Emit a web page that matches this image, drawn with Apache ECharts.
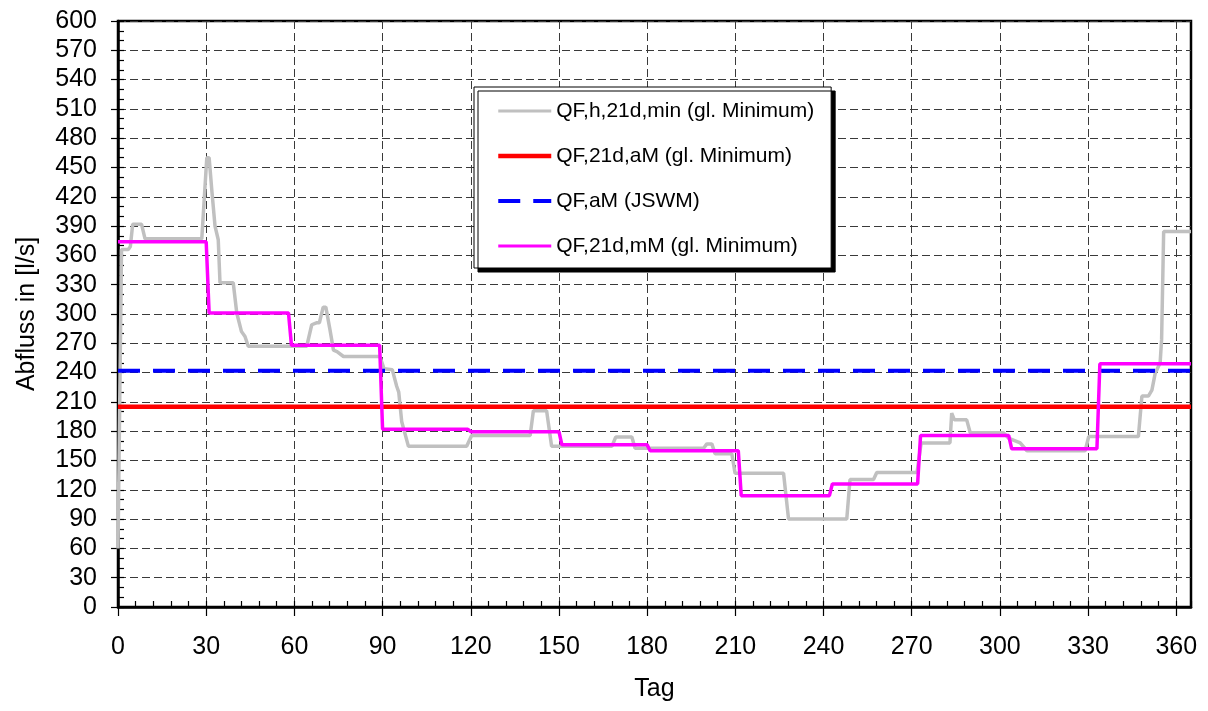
<!DOCTYPE html>
<html>
<head>
<meta charset="utf-8">
<script src="https://cdn.jsdelivr.net/npm/echarts@6/dist/echarts.min.js"></script>
<style>
  html, body { margin: 0; padding: 0; background: #fff; }
  #chart { width: 1208px; height: 711px; }
</style>
</head>
<body>
<div id="chart"></div>
<script>
// Axis tick labels
const xTickValues = [0, 30, 60, 90, 120, 150, 180, 210, 240, 270, 300, 330, 360];
const yTickValues = [0, 30, 60, 90, 120, 150, 180, 210, 240, 270, 300, 330, 360, 390, 420, 450, 480, 510, 540, 570, 600];

// Series names
const seriesNames = [
  'QF,h,21d,min (gl. Minimum)',
  'QF,21d,aM (gl. Minimum)',
  'QF,aM (JSWM)',
  'QF,21d,mM (gl. Minimum)'
];

// QF,h,21d,min – gliding 21-day minimum, [Tag, l/s]
const glidingMin = [
  [0, 60], [1.2, 366], [3.5, 366], [4.2, 369], [5, 392], [8, 392], [9.2, 377],
  [28.5, 377], [30.2, 460], [31, 460], [31.9, 427], [33, 390], [34.1, 376],
  [34.7, 332], [39.2, 332], [40.4, 301], [42, 282], [43.2, 277], [44.3, 267],
  [64.2, 267], [65.9, 289], [67.5, 291], [68.5, 291], [69.8, 307], [70.7, 307],
  [72.1, 284], [73.3, 263], [74.5, 261.5], [76.7, 256.5], [89.1, 256.5],
  [90.5, 244], [93.3, 243], [94.8, 226], [95.5, 220], [96.5, 190], [98.8, 164.5],
  [118.6, 164.5], [120.3, 175.5], [140.2, 175.5], [141.3, 201], [145.8, 201],
  [147.5, 164.5], [168, 164.5], [169.3, 174], [174.8, 174], [175.9, 162.5],
  [199.2, 162.5], [200.3, 167], [202, 167], [203.1, 157], [208.8, 157],
  [209.9, 137], [226.4, 137], [228.1, 90], [247.9, 90], [249, 130.5], [257, 130.5],
  [258.1, 137.6], [271.8, 137.6], [273.2, 168], [283, 168], [283.6, 198.5],
  [284.5, 191.6], [288.7, 191.6], [289.9, 178.5], [301.2, 178.5], [302.9, 173],
  [306.9, 168], [309.2, 160], [329, 160], [330.2, 174.5], [347.1, 174.5],
  [348.3, 216], [350.5, 216], [351.7, 222], [352.8, 239], [354.5, 250],
  [355, 274], [355.7, 384.5], [365, 384.5]
];

// QF,21d,aM – annual value of the 21-day mean minimum
const annualMin21d = 205;
// QF,aM (JSWM) – annual mean
const annualMean = 242;

// QF,21d,mM – monthly values, one per month starting at the given day
const monthStartDay = [0, 31, 59, 90, 120, 151, 181, 212, 243, 273, 304, 334];
const monthlyMin21d = [374, 301, 268, 182, 179.5, 166, 160, 114, 126, 175.5, 162, 249];
const yearEndDay = 365;

// Build the step line of the monthly values
const monthlySteps = [];
monthStartDay.forEach((start, i) => {
  const end = i + 1 < monthStartDay.length ? monthStartDay[i + 1] - 1 : yearEndDay;
  monthlySteps.push([start, monthlyMin21d[i]], [end, monthlyMin21d[i]]);
});

const FONT = 'Liberation Sans, Arial, sans-serif';
const gridDash = { color: '#3a3a3a', width: 1, type: [8, 4] };
// legend entries show the line only, no marker
const noMarker = { opacity: 0 };

const chart = echarts.init(document.getElementById('chart'), null, { renderer: 'canvas' });

chart.setOption({
  animation: false,
  backgroundColor: '#fff',
  textStyle: { fontFamily: FONT, color: '#000' },
  grid: {
    left: 118, right: 17, top: 21, bottom: 104,
    containLabel: false,
    show: true, borderColor: '#000', borderWidth: 2.5, backgroundColor: 'transparent'
  },
  legend: {
    orient: 'vertical',
    left: 474, top: 87,
    padding: [12, 17, 10, 22],
    itemGap: 21,
    itemWidth: 53,
    itemHeight: 14,
    backgroundColor: '#fff',
    borderColor: '#000',
    borderWidth: 1,
    shadowColor: '#000',
    shadowBlur: 0,
    shadowOffsetX: 4,
    shadowOffsetY: 4,
    textStyle: { fontFamily: FONT, fontSize: 21, color: '#000', lineHeight: 24 },
    data: [
      { name: seriesNames[0], itemStyle: noMarker, lineStyle: { color: '#c0c0c0', width: 3 } },
      { name: seriesNames[1], itemStyle: noMarker, lineStyle: { color: '#ff0000', width: 4.5 } },
      { name: seriesNames[2], itemStyle: noMarker, lineStyle: { color: '#0000ff', width: 4, type: [22, 13] } },
      { name: seriesNames[3], itemStyle: noMarker, lineStyle: { color: '#ff00ff', width: 3 } }
    ]
  },
  xAxis: [
    {
      type: 'value', min: 0, max: 365, interval: 30, position: 'bottom',
      name: 'Tag', nameLocation: 'middle', nameGap: 70,
      nameTextStyle: { fontFamily: FONT, fontSize: 25, color: '#000' },
      axisLine: { show: true, onZero: false, lineStyle: { color: '#000', width: 2.5 } },
      axisTick: { show: true, inside: false, length: 9, customValues: xTickValues, lineStyle: { color: '#000', width: 1.2 } },
      axisLabel: { show: true, customValues: xTickValues, margin: 28, fontFamily: FONT, fontSize: 25, color: '#000' },
      splitLine: { show: true, lineStyle: gridDash }
    },
    {
      type: 'value', min: 0, max: 365, interval: 6, position: 'bottom',
      axisLine: { show: false },
      axisTick: { show: true, inside: true, length: 6, lineStyle: { color: '#000', width: 1.2 } },
      axisLabel: { show: false },
      splitLine: { show: false }
    }
  ],
  yAxis: [
    {
      type: 'value', min: 0, max: 600, interval: 30, position: 'left',
      name: 'Abfluss in [l/s]', nameLocation: 'middle', nameGap: 78, nameRotate: 90,
      nameTextStyle: { fontFamily: FONT, fontSize: 25, color: '#000' },
      axisLine: { show: true, onZero: false, lineStyle: { color: '#000', width: 2.5 } },
      axisTick: { show: true, inside: false, length: 7, lineStyle: { color: '#000', width: 1.2 } },
      axisLabel: { show: true, customValues: yTickValues, margin: 21, fontFamily: FONT, fontSize: 25, color: '#000' },
      splitLine: { show: true, lineStyle: gridDash }
    },
    {
      type: 'value', min: 0, max: 600, interval: 10, position: 'left',
      axisLine: { show: false },
      axisTick: { show: true, inside: true, length: 6, lineStyle: { color: '#000', width: 1.2 } },
      axisLabel: { show: false },
      splitLine: { show: false }
    }
  ],
  series: [
    {
      name: seriesNames[0], type: 'line', xAxisIndex: 0, yAxisIndex: 0,
      symbol: 'none', data: glidingMin,
      lineStyle: { color: '#c0c0c0', width: 3.5 }, itemStyle: { color: '#c0c0c0' }
    },
    {
      name: seriesNames[1], type: 'line', xAxisIndex: 0, yAxisIndex: 0,
      symbol: 'none', data: [[0, annualMin21d], [yearEndDay, annualMin21d]],
      lineStyle: { color: '#ff0000', width: 4.5 }, itemStyle: { color: '#ff0000' }
    },
    {
      name: seriesNames[2], type: 'line', xAxisIndex: 0, yAxisIndex: 0,
      symbol: 'none', data: [[0, annualMean], [yearEndDay, annualMean]],
      lineStyle: { color: '#0000ff', width: 4, type: [22, 13] }, itemStyle: { color: '#0000ff' }
    },
    {
      name: seriesNames[3], type: 'line', xAxisIndex: 0, yAxisIndex: 0,
      symbol: 'none', data: monthlySteps,
      lineStyle: { color: '#ff00ff', width: 3.5 }, itemStyle: { color: '#ff00ff' }
    }
  ]
});
</script>
</body>
</html>
